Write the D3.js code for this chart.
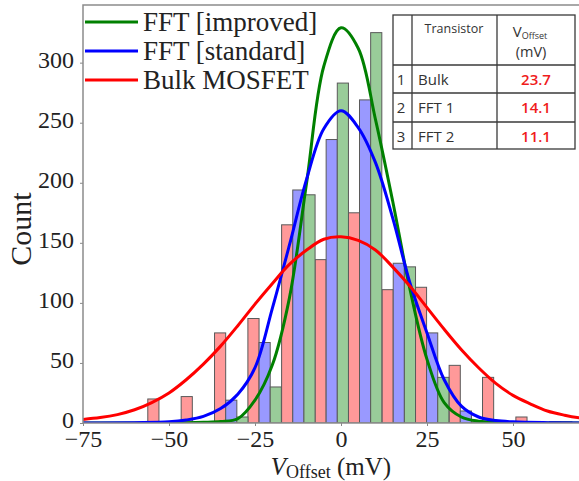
<!DOCTYPE html>
<html>
<head>
<meta charset="utf-8">
<script src="https://cdn.jsdelivr.net/npm/d3@7"></script>
<style>
  body { margin: 0; background: #fff; }
  .serif { font-family: "Liberation Serif", "Times New Roman", serif; }
  .tbl { font-family: "Open Sans", "Noto Sans", sans-serif; }
</style>
</head>
<body>
<svg id="chart" width="579" height="481"></svg>
<script>
// histogram bins (centre of each group of three bars, mV)
const binCenters = [-51.3, -41.6, -31.9, -22.2, -12.4, -2.7, 7.0, 16.8, 26.5, 36.3, 46.0, 55.7, 65.5];
const bulkCounts = [20, 22, 75, 87, 165, 136, 175, 111, 113, 48, 38, 5, 1];
const stdCounts  = [1, 0, 19, 67, 194, 236, 269, 133, 75, 10, 0, 0, 1];
const impCounts  = [0, 0, 5, 30, 190, 283, 325, 130, 38, 1, 0, 0, 0];

// fitted curves as [mV, count]
const bulkFit = [[-80,2],[-75,3],[-70,4.5],[-65,7],[-60,11],[-55,17],[-50,25],[-45,36],[-40,49],[-35,64],
  [-30,81],[-25,99],[-20,116],[-15,132],[-10,144],[-5,153],[0,155],[5,152],[10,144],[15,130],[20,114],
  [25,96],[30,78],[35,61],[40,46],[45,33],[50,23],[55,16],[60,10],[65,6.5],[70,4],[75,2.5],[80,1.5]];
const stdFit = [[-80,0],[-70,0],[-60,0.3],[-50,1],[-45,2.5],[-40,5.5],[-35,12],[-30,24],[-25,46],[-20,95],
  [-15,148],[-10,203],[-5,245],[0,260],[5,246],[10,217],[15,171],[20,117],[25,75],[30,36],[35,14],
  [40,5],[45,2],[50,1],[60,0.3],[70,0],[80,0]];
const impFit = [[-80,0],[-60,0],[-45,0.3],[-40,0.6],[-35,1.2],[-30,3.5],[-25,19],[-20,48],[-15,104],[-10,200],
  [-5,297],[0,329],[5,312],[10,253],[15,185],[20,112],[25,53],[30,17],[35,5],[40,1.5],[45,0.5],[60,0],[80,0]];

const xTicks = [-75, -50, -25, 0, 25, 50];
const yTicks = [0, 50, 100, 150, 200, 250, 300];

const legendNames = ["FFT [improved]", "FFT [standard]", "Bulk MOSFET"];
const tableIndex = ["1", "2", "3"];
const tableNames = ["Bulk", "FFT 1", "FFT 2"];
const tableOffsets = ["23.7", "14.1", "11.1"];

const binWidth = 9.73;
const svg = d3.select("#chart");

const x = d3.scaleLinear().domain([-75, 75]).range([83, 599]);
const y = d3.scaleLinear().domain([0, 348]).range([423, 5]);

const series = [
  {counts: bulkCounts, fit: bulkFit, fill: "#ff9999", line: "#ff0000"},
  {counts: stdCounts,  fit: stdFit,  fill: "#9999ff", line: "#0000ff"},
  {counts: impCounts,  fit: impFit,  fill: "#99cc99", line: "#008000"}
];

svg.append("clipPath").attr("id", "plot")
  .append("rect").attr("x", x(-75)).attr("y", y(348))
  .attr("width", x(75) - x(-75)).attr("height", y(0) - y(348));

const barW = binWidth / 3;
const plot = svg.append("g").attr("clip-path", "url(#plot)");

series.forEach((s, k) => {
  plot.append("g")
    .selectAll("rect")
    .data(binCenters.map((c, i) => ({c: c, v: s.counts[i]})).filter(d => d.v > 0))
    .join("rect")
    .attr("x", d => x(d.c - 1.5 * barW + k * barW))
    .attr("width", d => x(d.c - 0.5 * barW + k * barW) - x(d.c - 1.5 * barW + k * barW))
    .attr("y", d => y(d.v))
    .attr("height", d => y(0) - y(d.v))
    .attr("fill", s.fill)
    .attr("stroke", "#5a5a5a")
    .attr("stroke-width", 1);
});

const line = d3.line().x(d => x(d[0])).y(d => y(d[1])).curve(d3.curveCatmullRom.alpha(0.5));
[series[2], series[1], series[0]].forEach(s => {
  plot.append("path").datum(s.fit)
    .attr("d", line)
    .attr("fill", "none")
    .attr("stroke", s.line)
    .attr("stroke-width", 3);
});

// axes
const xAxis = svg.append("g").attr("transform", `translate(0,${y(0)})`)
  .call(d3.axisBottom(x).tickValues(xTicks).tickSize(3).tickSizeOuter(0));
xAxis.select(".domain").remove();
xAxis.selectAll("line").attr("stroke", "#888");
xAxis.selectAll("text").attr("class", "serif").attr("font-size", 24)
  .attr("fill", "#222").attr("y", 24).attr("dy", 0);

const yAxis = svg.append("g").attr("transform", `translate(${x(-75)},0)`)
  .call(d3.axisLeft(y).tickValues(yTicks).tickSize(3).tickPadding(6).tickSizeOuter(0));
yAxis.select(".domain").remove();
yAxis.selectAll("line").attr("stroke", "#888");
yAxis.selectAll("text").attr("class", "serif").attr("font-size", 24).attr("fill", "#222")
  .attr("dy", "0.2em");
svg.selectAll("g").filter(function () { return this.getAttribute("font-family"); })
  .attr("font-family", null);

// spines
const spine = svg.append("g").attr("stroke", "#8c8c8c").attr("stroke-width", 1.5).attr("fill", "none");
spine.append("path").attr("d", `M${x(-75)},${y(0)}V${y(348)}H${x(75)}`);
spine.append("path").attr("d", `M${x(-75)},${y(0)}H${x(75)}`);

// axis titles
svg.append("text").attr("class", "serif")
  .attr("transform", "translate(31,229) rotate(-90)")
  .attr("text-anchor", "middle").attr("font-size", 30).attr("fill", "#222")
  .text("Count");

const xl = svg.append("text").attr("class", "serif")
  .attr("x", 331).attr("y", 475).attr("text-anchor", "middle")
  .attr("font-size", 25).attr("fill", "#222");
xl.append("tspan").attr("font-style", "italic").text("V");
xl.append("tspan").attr("font-size", 18).attr("dy", 3).text("Offset");
xl.append("tspan").attr("dy", -3).text(" (mV)");

// legend
const legColors = [series[2].line, series[1].line, series[0].line];
legendNames.forEach((name, i) => {
  const ly = 22 + i * 29;
  svg.append("line").attr("x1", 85).attr("x2", 138).attr("y1", ly).attr("y2", ly)
    .attr("stroke", legColors[i]).attr("stroke-width", 3);
  svg.append("text").attr("class", "serif").attr("x", 143).attr("y", ly + 9)
    .attr("font-size", 27).attr("fill", "#222").text(name);
});

// table
const colX = [393, 412, 497, 575];
const rowY = [15, 65, 93, 122, 149];
const tbl = svg.append("g").attr("class", "tbl");
tbl.append("rect").attr("x", colX[0]).attr("y", rowY[0])
  .attr("width", colX[3] - colX[0]).attr("height", rowY[4] - rowY[0])
  .attr("fill", "#fff").attr("stroke", "#3a3a3a").attr("stroke-width", 1.3);
colX.slice(1, 3).forEach(cx => tbl.append("line").attr("x1", cx).attr("x2", cx)
  .attr("y1", rowY[0]).attr("y2", rowY[4]).attr("stroke", "#3a3a3a").attr("stroke-width", 1.3));
rowY.slice(1, 4).forEach(ry => tbl.append("line").attr("x1", colX[0]).attr("x2", colX[3])
  .attr("y1", ry).attr("y2", ry).attr("stroke", "#3a3a3a").attr("stroke-width", 1.3));

tbl.append("text").attr("x", 454).attr("y", 33).attr("text-anchor", "middle")
  .attr("font-size", 12.5).attr("fill", "#333").text("Transistor");
const vh = tbl.append("text").attr("x", 530).attr("y", 37).attr("text-anchor", "middle")
  .attr("font-size", 15).attr("fill", "#333");
vh.append("tspan").text("V");
vh.append("tspan").attr("font-size", 9).attr("dy", 2).text("Offset");
tbl.append("text").attr("x", 531).attr("y", 57).attr("text-anchor", "middle")
  .attr("font-size", 14.5).attr("fill", "#333").text("(mV)");

tableNames.forEach((name, i) => {
  const by = rowY[i + 1] + 20;
  tbl.append("text").attr("x", 401).attr("y", by).attr("text-anchor", "middle")
    .attr("font-size", 15).attr("fill", "#333").text(tableIndex[i]);
  tbl.append("text").attr("x", 418).attr("y", by)
    .attr("font-size", 15).attr("fill", "#333").text(name);
  tbl.append("text").attr("x", 536).attr("y", by).attr("text-anchor", "middle")
    .attr("font-size", 15).attr("font-weight", 600).attr("fill", "#f01c1c").text(tableOffsets[i]);
});
</script>
</body>
</html>
